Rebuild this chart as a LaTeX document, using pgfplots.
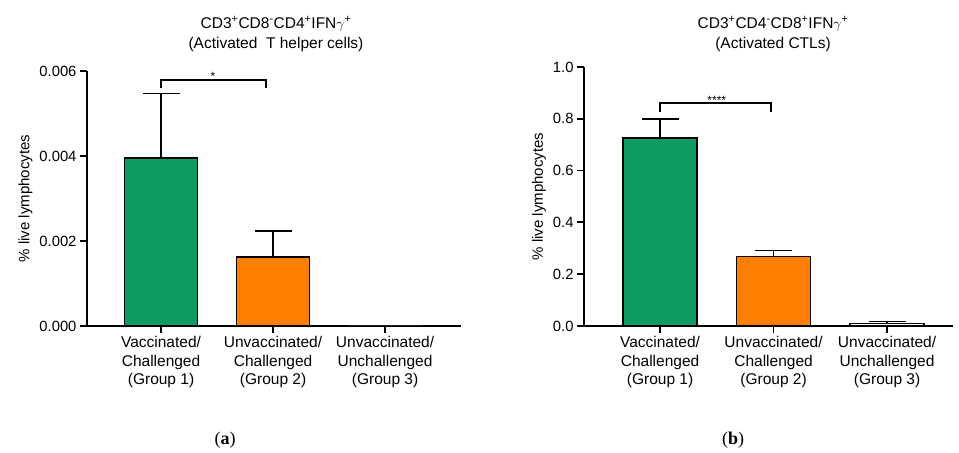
\documentclass[border=0pt]{standalone}
\usepackage{fontspec}
\setmainfont{Liberation Sans}
\newfontfamily\seriffont{Liberation Serif}
\usepackage{pgfplots}
\pgfplotsset{compat=1.18}
\definecolor{barg}{HTML}{0E9A63}
\definecolor{baro}{HTML}{FF8000}
\pgfplotsset{gp/.style={
  scale only axis, clip=false,
  axis x line=bottom, axis y line=left,
  axis line style={line width=1.8bp,-,black},
  ybar, bar shift=0pt,
  ymin=0,
  xtick={1,2,3},
  xticklabels={{Vaccinated/\\Challenged\\(Group 1)},{Unvaccinated/\\Challenged\\(Group 2)},{Unvaccinated/\\Unchallenged\\(Group 3)}},
  xticklabel style={align=center, font=\fontsize{15.5bp}{18.5bp}\selectfont},
  yticklabel style={font=\fontsize{14.8bp}{18bp}\selectfont},
  ylabel style={font=\fontsize{15bp}{18bp}\selectfont},
  /pgf/number format/assume math mode=true,
  scaled y ticks=false,
  tick style={line width=1.8bp, black},
  major tick length=7bp,
  tick align=outside,
  ylabel={\% live lymphocytes},
  ebar/.style={error bars/.cd, y dir=plus, y explicit,
    error bar style={line width=1.3bp,black},
    error mark options={rotate=90, mark size=18.5bp, line width=1.3bp, black}},
}}
\begin{document}
\begin{tikzpicture}
\useasboundingbox (0,0) rectangle (959bp,453bp);
% ---- panel a ----
\begin{axis}[gp, at={(87bp,127bp)}, anchor=south west,
  width=374bp, height=255bp, xmin=0.339, xmax=3.678, ymax=0.006,
  bar width=73bp,
  ytick={0,0.002,0.004,0.006}, yticklabels={0.000,0.002,0.004,0.006}]
\addplot[fill=barg, draw=black, line width=1.8bp, ebar] coordinates {(1,0.00395) +- (0,0.00152)};
\addplot[fill=baro, draw=black, line width=1.8bp, ebar] coordinates {(2,0.00163) +- (0,0.000605)};
\addplot[fill=white, draw=none] coordinates {(3,0)};
\draw[line width=1.8bp] (axis cs:1,0.0056) |- (axis cs:1.935,0.005788) -- (axis cs:1.935,0.0056);
\node[font=\fontsize{12bp}{12bp}\selectfont, inner sep=0pt] at (axis cs:1.464,0.00588) {*};
\end{axis}
% ---- panel b ----
\begin{axis}[gp, at={(584bp,127bp)}, anchor=south west,
  width=369bp, height=259bp, xmin=0.330, xmax=3.581, ymax=1.0,
  bar width=74bp,
  ytick={0,0.2,0.4,0.6,0.8,1.0}, yticklabels={0.0,0.2,0.4,0.6,0.8,1.0}]
\addplot[fill=barg, draw=black, line width=1.8bp, ebar] coordinates {(1,0.725) +- (0,0.074)};
\addplot[fill=baro, draw=black, line width=1.8bp, ebar] coordinates {(2,0.268) +- (0,0.024)};
\addplot[fill=white, draw=black, line width=1.2bp, ebar] coordinates {(3,0.009) +- (0,0.009)};
\draw[line width=1.8bp] (axis cs:1,0.826) |- (axis cs:1.978,0.861) -- (axis cs:1.978,0.826);
\node[font=\fontsize{12bp}{12bp}\selectfont, inner sep=0pt] at (axis cs:1.5,0.872) {****};
\end{axis}
% titles
\node[align=center, font=\fontsize{15.5bp}{20bp}\selectfont] at (276bp,419bp)
  {CD3\textsuperscript{+}CD8\textsuperscript{-}CD4\textsuperscript{+}IFN$\gamma$\textsuperscript{+}\\(Activated\ \ T helper cells)};
\node[align=center, font=\fontsize{15.5bp}{20bp}\selectfont] at (773bp,419bp)
  {CD3\textsuperscript{+}CD4\textsuperscript{-}CD8\textsuperscript{+}IFN$\gamma$\textsuperscript{+}\\(Activated CTLs)};
% subcaptions
\node[font=\seriffont\fontsize{18bp}{20bp}\selectfont] at (225bp,13bp) {(\textbf{a})};
\node[font=\seriffont\fontsize{18bp}{20bp}\selectfont] at (733bp,13bp) {(\textbf{b})};
\end{tikzpicture}
\end{document}
